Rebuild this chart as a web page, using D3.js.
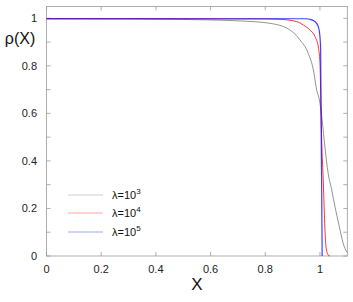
<!DOCTYPE html>
<html>
<head>
<meta charset="utf-8">
<script src="https://cdn.jsdelivr.net/npm/d3@7.9.0/dist/d3.min.js"></script>
<style>
  body { margin: 0; background: #fff; }
  text { font-family: "Liberation Sans", Arial, sans-serif; }
</style>
</head>
<body>
<div id="chart"></div>
<script>
// values
const grayX = [0, 0.3, 0.5, 0.6, 0.707, 0.817, 0.89, 0.927, 0.957, 0.976, 0.988, 0.998, 1.008, 1.018, 1.03, 1.043, 1.055, 1.071, 1.085, 1.098, 1.1];
const grayY = [0.998, 0.997, 0.995, 0.993, 0.989, 0.979, 0.951, 0.909, 0.853, 0.782, 0.698, 0.656, 0.572, 0.46, 0.348, 0.278, 0.207, 0.123, 0.053, 0.018, 0.015];
const redX = [0, 0.4, 0.8, 0.85, 0.915, 0.939, 0.963, 0.982, 0.994, 1.0, 1.0025, 1.005, 1.008, 1.012, 1.016, 1.022, 1.03, 1.036];
const redY = [0.998, 0.998, 0.997, 0.996, 0.986, 0.972, 0.951, 0.923, 0.88, 0.811, 0.698, 0.55, 0.43, 0.32, 0.18, 0.039, 0.004, 0];
const blueX = [0, 0.4, 0.8, 0.95, 0.963, 0.982, 0.994, 1.0, 1.0025, 1.0035, 1.005, 1.006, 1.008];
const blueY = [0.998, 0.998, 0.998, 0.998, 0.996, 0.986, 0.965, 0.923, 0.867, 0.698, 0.45, 0.32, 0];
const series = [
  { name: "3", xs: grayX, ys: grayY, color: "#777777" },
  { name: "4", xs: redX, ys: redY, color: "#ff0000" },
  { name: "5", xs: blueX, ys: blueY, color: "#0000ff" }
];
const xTicks = [0, 0.2, 0.4, 0.6, 0.8, 1];
const yTicks = [0, 0.2, 0.4, 0.6, 0.8, 1];
const yMinor = [0.1, 0.3, 0.5, 0.7, 0.9];

const W = 353, H = 302;
const pLeft = 46.5, pRight = 347.3, pTop = 6.4, pBottom = 256;

const svg = d3.select("#chart").append("svg")
  .attr("width", W).attr("height", H);

const x = d3.scaleLinear().domain([0, 1.1]).range([pLeft, pRight]);
const y = d3.scaleLinear().domain([0, 1.05]).range([pBottom, pTop]);

const axisColor = "#999";

// ticks, inward on all sides
const tk = svg.append("g").attr("stroke", axisColor).attr("stroke-width", 0.8);
xTicks.forEach(v => {
  tk.append("line").attr("x1", x(v)).attr("x2", x(v)).attr("y1", pBottom).attr("y2", pBottom - 4);
  tk.append("line").attr("x1", x(v)).attr("x2", x(v)).attr("y1", pTop).attr("y2", pTop + 4);
});
yTicks.concat(yMinor).forEach(v => {
  tk.append("line").attr("x1", pLeft).attr("x2", pLeft + 4).attr("y1", y(v)).attr("y2", y(v));
  tk.append("line").attr("x1", pRight).attr("x2", pRight - 4).attr("y1", y(v)).attr("y2", y(v));
});

svg.append("rect")
  .attr("x", pLeft).attr("y", pTop)
  .attr("width", pRight - pLeft).attr("height", pBottom - pTop)
  .attr("fill", "none").attr("stroke", axisColor).attr("stroke-width", 0.8);

// tick labels
svg.selectAll(".xl").data(xTicks).join("text")
  .attr("x", d => x(d)).attr("y", 272.5)
  .attr("text-anchor", "middle").attr("font-size", 11).attr("fill", "#222")
  .text(d => d);
svg.selectAll(".yl").data(yTicks).join("text")
  .attr("x", 37).attr("y", d => y(d) + 4)
  .attr("text-anchor", "end").attr("font-size", 11).attr("fill", "#222")
  .text(d => d);

// axis titles
svg.append("text").attr("x", 20).attr("y", 44)
  .attr("text-anchor", "middle").attr("font-size", 16).attr("fill", "#111")
  .text("ρ(X)");
svg.append("text").attr("x", 197).attr("y", 290)
  .attr("text-anchor", "middle").attr("font-size", 17).attr("fill", "#111")
  .text("X");

// curves
const line = d3.line().curve(d3.curveMonotoneX)
  .x(d => x(d[0])).y(d => y(d[1]));
series.forEach((s, i) => {
  svg.append("path")
    .datum(s.xs.map((v, j) => [v, s.ys[j]]))
    .attr("d", line)
    .attr("fill", "none")
    .attr("stroke", s.color)
    .attr("stroke-width", i === 2 ? 1.2 : 0.8)
    .attr("stroke-opacity", i === 2 ? 0.75 : 1);
});

// legend
const legY = [195, 213, 232];
series.forEach((s, i) => {
  svg.append("line")
    .attr("x1", 68).attr("x2", 103).attr("y1", legY[i]).attr("y2", legY[i])
    .attr("stroke", s.color).attr("stroke-width", 0.6).attr("stroke-opacity", 0.6);
  const t = svg.append("text").attr("x", 112).attr("y", legY[i] + 4)
    .attr("font-size", 11).attr("fill", "#111");
  t.append("tspan").text("λ=10");
  t.append("tspan").attr("dy", -5).attr("font-size", 8).text(s.name);
});
</script>
</body>
</html>
